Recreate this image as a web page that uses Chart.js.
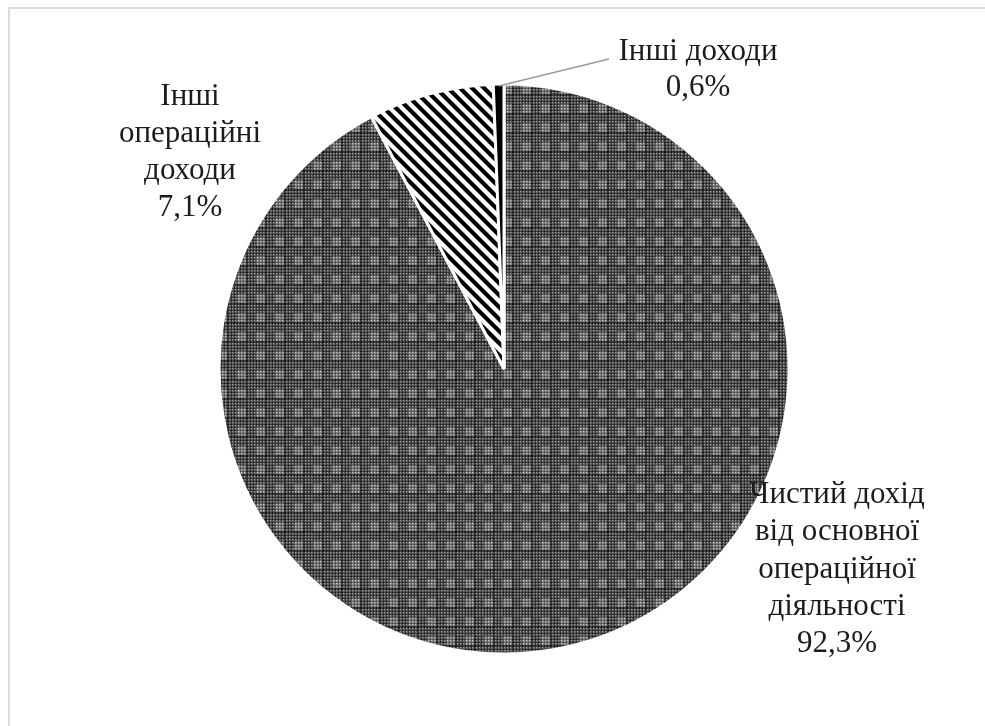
<!DOCTYPE html>
<html lang="uk">
<head>
<meta charset="utf-8">
<title>Структура доходів</title>
<script src="https://cdn.jsdelivr.net/npm/chart.js@4/dist/chart.umd.min.js"></script>
<style>
  html, body { margin: 0; padding: 0; background: #fff; }
  #wrap { position: relative; width: 985px; height: 726px; overflow: hidden; }
  #frame { position: absolute; left: 8px; top: 7px; width: 990px; height: 730px;
           border-left: 2px solid #dcdcdc; border-top: 2px solid #dcdcdc; }
  canvas { position: absolute; left: 0; top: 0; }
</style>
</head>
<body>
<div id="wrap">
  <div id="frame"></div>
  <canvas id="chart" width="985" height="726"></canvas>
</div>
<script>
// Income structure, shares in percent
const categories = [
  ['Чистий дохід', 'від основної', 'операційної', 'діяльності'],
  ['Інші', 'операційні', 'доходи'],
  ['Інші доходи']
];
const shares = [92.3, 7.1, 0.6];

// Dense grey mesh with lighter square blocks
function meshPattern() {
  const n = 19;
  const c = document.createElement('canvas');
  c.width = n; c.height = n;
  const g = c.getContext('2d');
  const img = g.createImageData(n, n);
  for (let y = 0; y < n; y++) {
    for (let x = 0; x < n; x++) {
      let v;
      if (x % 3 === 1 && y % 3 === 1) v = 160;
      else if (x % 3 === 0 || y % 3 === 0) v = (x % 3 === 0 && y % 3 === 0) ? 25 : 60;
      else v = 95;
      if (x >= 9 && x <= 17 && y >= 9 && y <= 17) v += 40;
      const i = (y * n + x) * 4;
      img.data[i] = img.data[i + 1] = img.data[i + 2] = Math.min(v, 255);
      img.data[i + 3] = 255;
    }
  }
  g.putImageData(img, 0, 0);
  return g.createPattern(c, 'repeat');
}

// Black diagonal hatching on white
function hatchPattern() {
  const s = 12;
  const c = document.createElement('canvas');
  c.width = s; c.height = s;
  const g = c.getContext('2d');
  g.fillStyle = '#fff';
  g.fillRect(0, 0, s, s);
  g.strokeStyle = '#000';
  g.lineWidth = 4.2;
  g.beginPath();
  for (const k of [-s, 0, s]) {
    g.moveTo(k - 2, -2);
    g.lineTo(k + s + 2, s + 2);
  }
  g.stroke();
  return g.createPattern(c, 'repeat');
}

const fmt = v => v.toFixed(1).replace('.', ',') + '%';

// Label blocks placed around the pie: [centre x, first line y, line step]
const labelPlaces = [[837, 495, 37.2], [190, 97, 37], [698, 52, 36]];

const sliceLabels = {
  id: 'sliceLabels',
  afterDraw(chart) {
    const ctx = chart.ctx;
    const arcs = chart.getDatasetMeta(0).data;
    ctx.save();
    // leader line for the smallest slice
    const a = arcs[2];
    const mid = (a.startAngle + a.endAngle) / 2;
    ctx.strokeStyle = '#9a9a9a';
    ctx.lineWidth = 1.5;
    ctx.beginPath();
    ctx.moveTo(a.x + Math.cos(mid) * (a.outerRadius - 2), a.y + Math.sin(mid) * (a.outerRadius - 2));
    ctx.lineTo(609, 59);
    ctx.stroke();

    ctx.fillStyle = '#1c1c1c';
    ctx.font = '31px "Liberation Serif", "Times New Roman", serif';
    ctx.textAlign = 'center';
    ctx.textBaseline = 'middle';
    categories.forEach((lines, i) => {
      const [cx, y0, step] = labelPlaces[i];
      const all = lines.concat([fmt(shares[i])]);
      all.forEach((t, j) => ctx.fillText(t, cx, y0 + j * step));
    });
    ctx.restore();
  }
};

new Chart(document.getElementById('chart'), {
  type: 'pie',
  data: {
    labels: categories,
    datasets: [{
      data: shares,
      backgroundColor: [meshPattern(), hatchPattern(), '#000'],
      borderColor: '#fff',
      borderWidth: 3,
      hoverOffset: 0,
      radius: 285
    }]
  },
  options: {
    responsive: false,
    animation: false,
    rotation: 0,
    layout: { padding: { left: 204, right: 181, top: 84, bottom: 72 } },
    plugins: { legend: { display: false }, tooltip: { enabled: false } }
  },
  plugins: [sliceLabels]
});
</script>
</body>
</html>
